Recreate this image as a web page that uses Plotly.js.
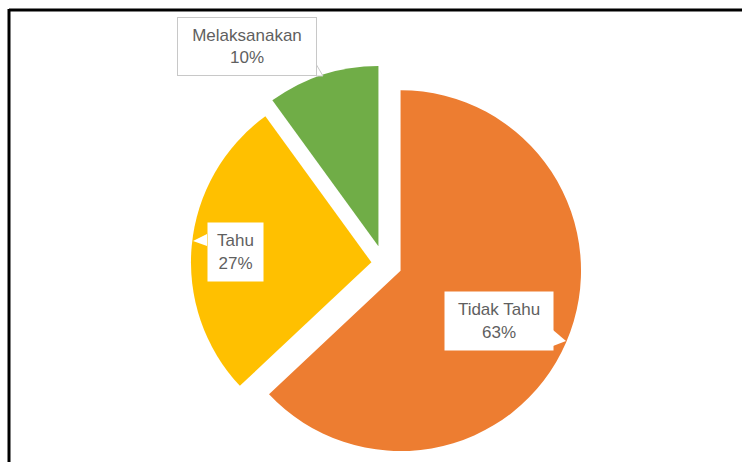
<!DOCTYPE html>
<html>
<head>
<meta charset="utf-8">
<script src="https://cdn.plot.ly/plotly-3.0.1.min.js"></script>
<style>
html,body{margin:0;padding:0;background:#fff;}
#chart{width:742px;height:462px;}
</style>
</head>
<body>
<div id="chart"></div>
<script>
var categories = ["Tidak Tahu", "Tahu", "Melaksanakan"];
var values = [63, 27, 10];
var colors = ["#ED7D31", "#FFC000", "#70AD47"];
var pulls = [0.1, 0.07, 0.1];

var W = 742, H = 462;
function px(x){ return x / W; }
function py(y){ return 1 - y / H; }

var total = values.reduce(function(a,b){return a+b;}, 0);
function labelText(i){
  return categories[i] + "<br>" + Math.round(values[i] / total * 100) + "%";
}

var trace = {
  type: "pie",
  labels: categories,
  values: values,
  sort: false,
  direction: "clockwise",
  rotation: 0,
  pull: pulls,
  marker: {colors: colors, line: {width: 0}},
  textinfo: "none",
  hoverinfo: "label+percent",
  showlegend: false,
  domain: {x: [px(384 - 199), px(384 + 199)], y: [py(264 + 199), py(264 - 199)]}
};

var boxes = [
  {i: 0, cx: 499, cy: 321, w: 108, h: 58, border: "rgba(0,0,0,0)"},
  {i: 1, cx: 235, cy: 252, w: 55, h: 58, border: "rgba(0,0,0,0)"},
  {i: 2, cx: 247, cy: 47, w: 138, h: 57, border: "#c8c8c8"}
];

var annotations = boxes.map(function(b){
  return {
    xref: "paper", yref: "paper",
    x: px(b.cx), y: py(b.cy),
    xanchor: "center", yanchor: "middle",
    text: labelText(b.i),
    showarrow: false,
    align: "center",
    width: b.w, height: b.h,
    bgcolor: "#ffffff",
    bordercolor: b.border,
    borderwidth: 1,
    borderpad: 0,
    font: {family: "Liberation Sans, Arial, sans-serif", size: 17, color: "#5f5f5f"}
  };
});

function pathPx(pts){
  return pts.map(function(p, k){ return (k ? "L" : "M") + px(p[0]) + "," + py(p[1]); }).join(" ") + " Z";
}

var shapes = [
  {type: "line", xref: "paper", yref: "paper", x0: px(9), y0: py(10), x1: 1, y1: py(10), line: {color: "#000", width: 3}},
  {type: "line", xref: "paper", yref: "paper", x0: px(9), y0: py(9), x1: px(9), y1: 0, line: {color: "#000", width: 3}},
  {type: "path", xref: "paper", yref: "paper", path: pathPx([[207, 234], [193, 241], [207, 246]]), fillcolor: "#fff", line: {width: 0}},
  {type: "path", xref: "paper", yref: "paper", path: pathPx([[553, 330], [566, 341], [553, 346]]), fillcolor: "#fff", line: {width: 0}},
  {type: "path", xref: "paper", yref: "paper", path: pathPx([[316, 64], [323, 76], [316, 76]]), fillcolor: "#fff", line: {color: "#c8c8c8", width: 1}}
];

var layout = {
  width: W, height: H,
  margin: {l: 0, r: 0, t: 0, b: 0},
  paper_bgcolor: "#ffffff",
  plot_bgcolor: "#ffffff",
  annotations: annotations,
  shapes: shapes
};

Plotly.newPlot("chart", [trace], layout, {displayModeBar: false, staticPlot: true});
</script>
</body>
</html>
